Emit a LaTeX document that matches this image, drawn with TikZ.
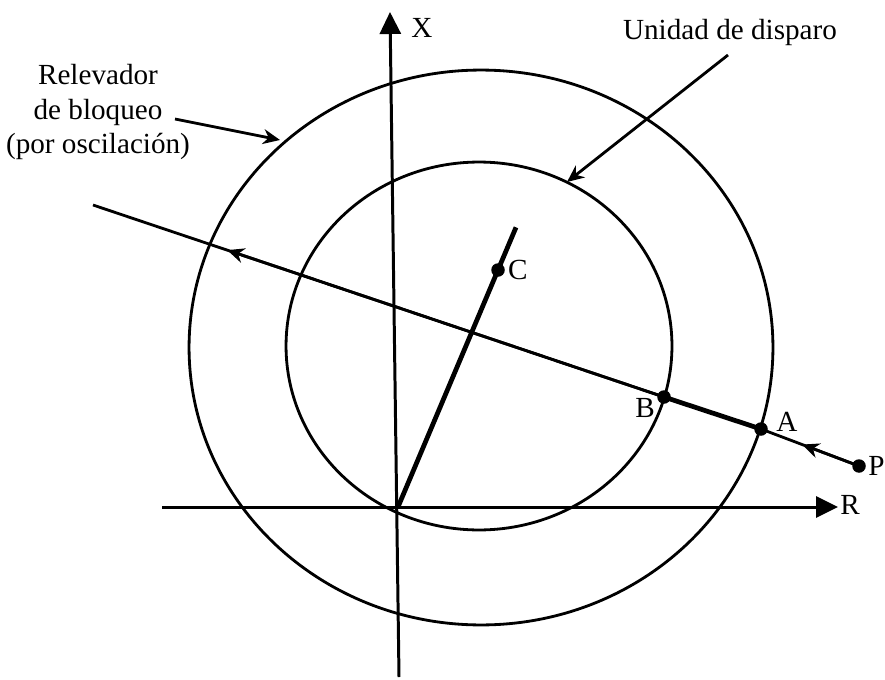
\documentclass[tikz,border=0pt]{standalone}
\usepackage{fontspec}
\setmainfont{Liberation Serif}
\usetikzlibrary{arrows.meta,calc}

\begin{document}
\begin{tikzpicture}[
    x=0.02cm, y=-0.02cm,
    font=\fontsize{16.6}{19.4}\selectfont,
    axis/.style={line width=1.7pt, -{Triangle[length=4.4mm,width=4.2mm]}},
    ring/.style={line width=1.6pt},
    locus/.style={line width=1.6pt},
    locusbold/.style={line width=2.7pt},
    flow/.style={-{Stealth[length=3.4mm,width=3mm]}, line width=1.6pt},
    dot/.style={circle, fill=black, inner sep=0pt, minimum size=2.7mm},
    ptlabel/.style={inner sep=1pt},
    callout/.style={align=center, inner sep=1pt},
]

\useasboundingbox (0,0) rectangle (885,679);

% =====================================================
% Axes R-X
% =====================================================

\coordinate (O)     at (398,507);
\coordinate (Xbot)  at (399,677);
\coordinate (Xtop)  at (390,12);
\coordinate (Rleft) at (162,507);
\coordinate (Rtip)  at (838,507);

\draw[axis] (Xbot) -- (Xtop);
\draw[axis] (Rleft) -- (Rtip);
\node[ptlabel] (xlbl) at (422,28)  {X};
\node[ptlabel] (rlbl) at (850,505) {R};

% =====================================================
% Characteristics (relay circles)
% =====================================================

\coordinate (cOuter) at (481,347.5);
\coordinate (cInner) at (479,346);
\draw[ring] (cOuter) ellipse [x radius=5.84cm, y radius=5.55cm];
\draw[ring] (cInner) ellipse [x radius=3.86cm, y radius=3.68cm];

% line impedance O -> C
\node[dot] (C) at (498,270) {};
\node[ptlabel, anchor=west] (clbl) at ($(C.east)+(1,0)$) {C};
\coordinate (Ctop) at ($(O)!1.18!(C)$);
\draw[locusbold] (O) -- (C.center) -- (Ctop);

% =====================================================
% Swing locus P -> A -> B
% =====================================================

\coordinate (S) at (93,205);
\node[dot] (B) at (664,397) {};
\node[dot] (A) at (761,429) {};
\node[dot] (P) at (859,466) {};
\node[ptlabel] (blbl) at (645,408) {B};
\node[ptlabel] (albl) at (787,422) {A};
\node[inner sep=0pt, anchor=west] (plbl) at (868,466) {P};

\draw[locus] (P.center) -- (A.center);
\draw[flow] (P.center) -- ($(P)!0.58!(A)$);
\draw[locusbold] (A.center) -- (B.center);
\draw[locus] (B.center) -- (S);
\draw[flow] (B.center) -- ($(B)!0.765!(S)$);

% =====================================================
% Callouts
% =====================================================

\node[callout] (relev) at (98,112) {Relevador\\de bloqueo\\(por oscilación)};
\coordinate (relevFrom) at (175,119);
\coordinate (relevTip)  at (280,140);
\draw[flow] (relevFrom) -- (relevTip);

\node[callout] (disp) at (730,32) {Unidad de disparo};
\coordinate (dispFrom) at (728,55);
\coordinate (dispTip)  at (567,182);
\draw[flow] (dispFrom) -- (dispTip);

\end{tikzpicture}
\end{document}
